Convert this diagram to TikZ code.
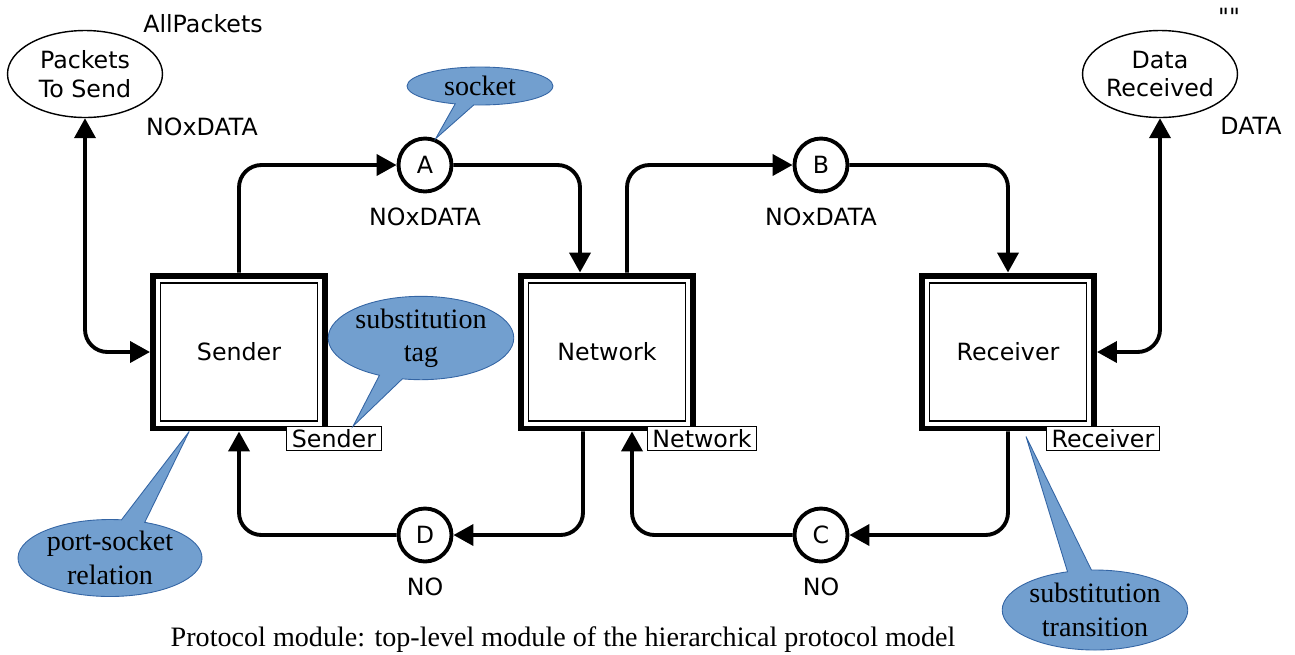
\documentclass[tikz,border=0pt]{standalone}
\usepackage{fontspec}
\setmainfont{Liberation Serif}
\newfontfamily\cpnfont{DejaVu Sans}
\usetikzlibrary{arrows.meta,positioning,shapes.geometric,shapes.callouts,calc}

\definecolor{noteblue}{HTML}{729FCF}
\definecolor{noteedge}{HTML}{3465A4}

\tikzset{
  cpntext/.style={font=\cpnfont\fontsize{13.5}{16.4}\selectfont},
  place/.style={circle, draw, line width=2.2pt, minimum size=1.06cm, inner sep=0pt, cpntext},
  subst/.style={rectangle, draw, line width=3.4pt, minimum width=3.44cm, minimum height=3.06cm, cpntext},
  portplace/.style={ellipse, draw, line width=0.8pt, minimum width=3.1cm, minimum height=1.74cm, inner sep=0pt, align=center, cpntext},
  tagbox/.style={rectangle, draw, line width=0.6pt, fill=white, inner xsep=3pt, inner ysep=1.5pt, cpntext},
  inscr/.style={inner sep=0pt, cpntext},
  arcline/.style={line width=2.2pt, rounded corners=0.45cm, -{Triangle[length=0.4cm,width=0.42cm]}},
  biarcline/.style={arcline, {Triangle[length=0.4cm,width=0.42cm]}-{Triangle[length=0.4cm,width=0.42cm]}},
  notebub/.style={ellipse callout, draw=noteedge, line width=0.5pt, fill=noteblue, inner sep=0pt, align=center, font=\fontsize{16}{19}\selectfont},
}

\begin{document}
\begin{tikzpicture}[x=0.02cm, y=-0.02cm]
  \useasboundingbox (0,0) rectangle (1295,654);

  % Substitution transitions
  \node[subst] (snd) at (239,352) {Sender};
  \node[subst] (net) at (607,352) {Network};
  \node[subst] (rcv) at (1008,352) {Receiver};
  \foreach \tr in {snd,net,rcv}
    \draw[line width=0.9pt] ($(\tr.north west)+(0.21cm,-0.21cm)$) rectangle ($(\tr.south east)+(-0.21cm,0.21cm)$);

  % Substitution tags
  \node[tagbox] (sndtag) at ([xshift=0.12cm,yshift=-0.14cm]snd.south east) {Sender};
  \node[tagbox] (nettag) at ([xshift=0.12cm,yshift=-0.14cm]net.south east) {Network};
  \node[tagbox] (rcvtag) at ([xshift=0.12cm,yshift=-0.14cm]rcv.south east) {Receiver};

  % Places
  \node[place] (A) at (425,165) {A};
  \node[place] (B) at (821,165) {B};
  \node[place] (C) at (821,535) {C};
  \node[place] (D) at (425,535) {D};
  \node[inscr, below=0.28cm of A] (Aty) {NOxDATA};
  \node[inscr, below=0.28cm of B] (Bty) {NOxDATA};
  \node[inscr, below=0.28cm of C] (Cty) {NO};
  \node[inscr, below=0.28cm of D] (Dty) {NO};

  % Port places
  \node[portplace] (pts) at (85,74) {Packets\\To Send};
  \node[portplace] (drc) at (1160,74) {Data\\Received};
  \node[inscr] (ptsinit) at (203,24) {AllPackets};
  \node[inscr] (ptsty) at (202,127) {NOxDATA};
  \node[inscr] (drcinit) at (1229,17) {""};
  \node[inscr] (drcty) at (1251,126) {DATA};

  % Arcs
  \draw[arcline] (snd.north) |- (A);
  \draw[arcline] (A) -| ([xshift=-0.54cm]net.north);
  \draw[arcline] ([xshift=0.4cm]net.north) |- (B);
  \draw[arcline] (B) -| (rcv.north);
  \draw[arcline] (rcv.south) |- (C);
  \draw[arcline] (C) -| ([xshift=0.5cm]net.south);
  \draw[arcline] ([xshift=-0.48cm]net.south) |- (D);
  \draw[arcline] (D) -| (snd.south);
  \draw[biarcline] (pts) |- (snd.west);
  \draw[biarcline] (drc) |- (rcv.east);

  % Notes
  \node[notebub, minimum width=2.92cm, minimum height=0.76cm,
        callout absolute pointer={(A.68)}] (sockn) at (480,86) {socket};
  \node[notebub, minimum width=3.16cm, minimum height=1.6cm,
        callout absolute pointer={($(sndtag.north)!0.4!(sndtag.north east)$)}] (stagn) at (421,338) {substitution\\tag};
  \node[notebub, minimum width=3.68cm, minimum height=1.54cm,
        callout absolute pointer={($(snd.south west)!0.22!(snd.south east)$)}] (psn) at (110,558) {port-socket\\relation};
  \node[notebub, minimum width=3.68cm, minimum height=1.6cm,
        callout absolute pointer={([xshift=0.36cm,yshift=-0.1cm]rcv.south)}] (strn) at (1095,610) {substitution\\transition};

  % Caption
  \node[font=\fontsize{16}{19}\selectfont] (capt) at (563,640) {Protocol module: top-level module of the hierarchical protocol model};
\end{tikzpicture}
\end{document}
